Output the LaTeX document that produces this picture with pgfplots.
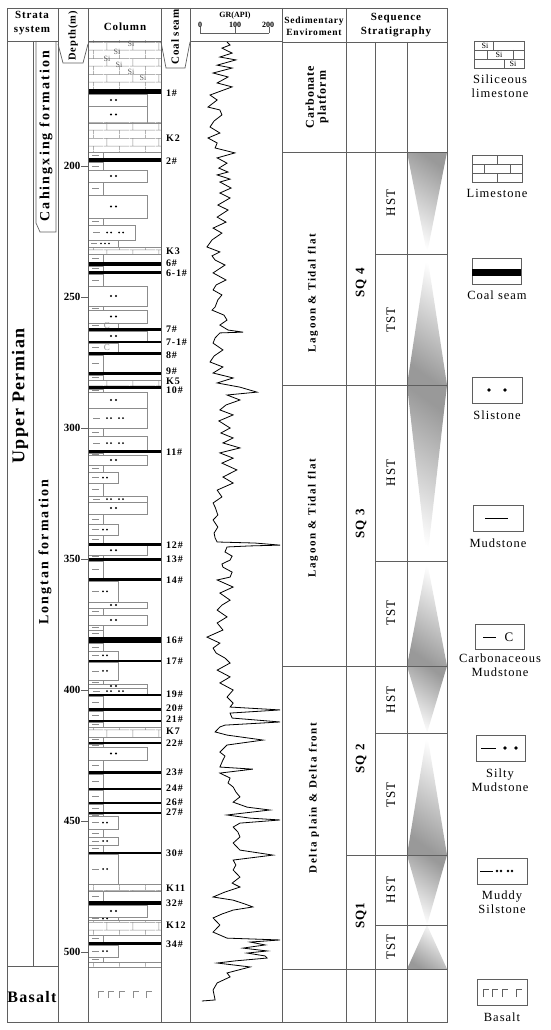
\documentclass[border=0pt]{standalone}
\usepackage{fontspec}
\setmainfont{Liberation Serif}
\newfontfamily\spc[LetterSpace=8]{Liberation Serif}
\newfontfamily\spw[LetterSpace=15]{Liberation Serif}
\usepackage{pgfplots}
\pgfplotsset{compat=1.18}
\usetikzlibrary{patterns}

\definecolor{fr}{RGB}{95,95,95}
\definecolor{lith}{RGB}{140,140,140}

% brick pattern for limestone
\pgfdeclarepatternformonly{limebrick}{\pgfpointorigin}{\pgfqpoint{26pt}{16pt}}{\pgfqpoint{26pt}{16pt}}{%
  \pgfsetlinewidth{0.5pt}%
  \pgfpathmoveto{\pgfqpoint{0pt}{4pt}}\pgfpathlineto{\pgfqpoint{26pt}{4pt}}%
  \pgfpathmoveto{\pgfqpoint{0pt}{12pt}}\pgfpathlineto{\pgfqpoint{26pt}{12pt}}%
  \pgfpathmoveto{\pgfqpoint{3pt}{4pt}}\pgfpathlineto{\pgfqpoint{3pt}{12pt}}%
  \pgfpathmoveto{\pgfqpoint{16pt}{12pt}}\pgfpathlineto{\pgfqpoint{16pt}{16pt}}%
  \pgfpathmoveto{\pgfqpoint{16pt}{0pt}}\pgfpathlineto{\pgfqpoint{16pt}{4pt}}%
  \pgfusepath{stroke}}

\tikzset{
  frl/.style={draw=fr, line width=0.7pt},
  lt/.style={draw=lith, line width=0.5pt},
  lg/.style={draw=fr, line width=0.6pt},
  lab/.style={anchor=west, inner sep=0pt, font={\spc\bfseries\fontsize{10}{10}\selectfont}},
  hd/.style={inner sep=0pt, align=center, font={\spc\bfseries\fontsize{11}{14}\selectfont}},
  lgt/.style={inner sep=0pt, align=center, font={\spc\fontsize{12.5}{14}\selectfont}},
}

% lithology layers, y in picture units from the top
\newcommand\Coal[2]{\fill[black] (axis cs:88,#1) rectangle (axis cs:161,#2);}
\newcommand\Mud[2]{\draw[lt] (axis cs:88,#1) rectangle (axis cs:103,#2);
  \draw[lt] (axis cs:92,{(#1+#2)/2}) -- (axis cs:99,{(#1+#2)/2});}
\newcommand\Silt[3]{\draw[lt] (axis cs:88,#1) rectangle (axis cs:#3,#2);
  \fill (axis cs:111,{(#1+#2)/2}) circle[radius=1.1pt];
  \fill (axis cs:116,{(#1+#2)/2}) circle[radius=1.1pt];}
\newcommand\MSilt[3]{\draw[lt] (axis cs:88,#1) rectangle (axis cs:#3,#2);
  \draw[lt] (axis cs:93,{(#1+#2)/2}) -- (axis cs:100,{(#1+#2)/2});
  \fill (axis cs:107,{(#1+#2)/2}) circle[radius=1pt];
  \fill (axis cs:111,{(#1+#2)/2}) circle[radius=1pt];
  \fill (axis cs:119,{(#1+#2)/2}) circle[radius=1pt];
  \fill (axis cs:123,{(#1+#2)/2}) circle[radius=1pt];}
\newcommand\SMud[2]{\draw[lt] (axis cs:88,#1) rectangle (axis cs:118,#2);
  \draw[lt] (axis cs:92,{(#1+#2)/2}) -- (axis cs:99,{(#1+#2)/2});
  \fill (axis cs:103,{(#1+#2)/2}) circle[radius=1pt];
  \fill (axis cs:107,{(#1+#2)/2}) circle[radius=1pt];}
\newcommand\Carb[2]{\draw[lt] (axis cs:88,#1) rectangle (axis cs:118,#2);
  \draw[lt] (axis cs:92,{(#1+#2)/2}) -- (axis cs:99,{(#1+#2)/2});
  \node[inner sep=0pt, text=lith, font=\fontsize{9}{9}\selectfont] at (axis cs:107,{(#1+#2)/2}) {C};}
\newcommand\Lime[2]{\draw[lt, pattern=limebrick, pattern color=lith] (axis cs:88,#1) rectangle (axis cs:161,#2);}
\newcommand\Lab[2]{\node[lab] at (axis cs:166,#1) {#2};}
\newcommand\Dep[2]{\draw[fr, line width=0.6pt] (axis cs:81,#1) -- (axis cs:88,#1);
  \node[anchor=east, inner sep=0pt, font={\bfseries\fontsize{11}{11}\selectfont}] at (axis cs:80.5,#1) {#2};}
\newcommand\HST[2]{\shade[top color=gray!80, bottom color=white, shading angle=-35]
  (axis cs:407,#1) -- (axis cs:447,#1) -- (axis cs:427,#2) -- cycle;}
\newcommand\TST[2]{\shade[top color=white, bottom color=gray!80, shading angle=-35]
  (axis cs:427,#1) -- (axis cs:447,#2) -- (axis cs:407,#2) -- cycle;}
\newcommand\ST[2]{\node[rotate=90, inner sep=0pt, font={\spc\fontsize{13}{13}\selectfont}] at (axis cs:391,#1) {#2};}

\begin{document}
\begin{tikzpicture}
\begin{axis}[at={(0pt,0pt)}, anchor=south west, width=550pt, height=1030pt,
  scale only axis, xmin=0, xmax=550, ymin=0, ymax=1030, y dir=reverse,
  hide axis, clip=false]
\path (axis cs:0,0) rectangle (axis cs:550,1030);

% ---- lithology column
\Lime{41}{89}
\node[font=\fontsize{8}{8}\selectfont, inner sep=0pt, text=fr] at (axis cs:131,44) {Si};
\node[font=\fontsize{8}{8}\selectfont, inner sep=0pt, text=fr] at (axis cs:117,52) {Si};
\node[font=\fontsize{8}{8}\selectfont, inner sep=0pt, text=fr] at (axis cs:107,59) {Si};
\node[font=\fontsize{8}{8}\selectfont, inner sep=0pt, text=fr] at (axis cs:119,65) {Si};
\node[font=\fontsize{8}{8}\selectfont, inner sep=0pt, text=fr] at (axis cs:131,72) {Si};
\node[font=\fontsize{8}{8}\selectfont, inner sep=0pt, text=fr] at (axis cs:143,78) {Si};
\Silt{94}{106}{147}
\Silt{106}{123}{147}
\Lime{123}{152}
\Mud{152}{158}
\Mud{162}{170}
\Silt{170}{182}{147}
\Mud{182}{195}
\Silt{195}{218}{147}
\Mud{218}{225}
\MSilt{225}{240}{135}
\draw[lt] (axis cs:88,240) rectangle (axis cs:118,247);
\draw[lt] (axis cs:91,243.5) -- (axis cs:97,243.5);
\fill (axis cs:101,243.5) circle[radius=0.9pt];
\fill (axis cs:105,243.5) circle[radius=0.9pt];
\fill (axis cs:109,243.5) circle[radius=0.9pt];
\Lime{247}{254}
\Mud{254}{262}
\Mud{266}{271}
\Mud{274}{286}
\Silt{286}{306}{147}
\Mud{306}{310}
\Silt{310}{323}{147}
\Carb{323}{328}
\Silt{331}{341}{147}
\Carb{343}{352}
\Mud{355}{372}
\Mud{375}{380}
\Lime{380}{386}
\Mud{389}{392}
\Silt{392}{408}{147}
\MSilt{408}{428}{147}
\Mud{428}{436}
\MSilt{436}{450}{147}
\Mud{453}{455}
\Silt{455}{465}{147}
\Mud{465}{472}
\SMud{472}{483}
\Mud{483}{496}
\MSilt{496}{502}{147}
\Silt{502}{514}{147}
\Mud{514}{524}
\SMud{524}{535}
\Mud{535}{543}
\Silt{545.5}{555}{147}
\Mud{555}{558}
\Mud{561}{578}
\SMud{581}{602}
\Silt{602}{608}{147}
\Mud{608}{615}
\Silt{615}{625}{147}
\Mud{625}{630}
\Mud{630}{637}
\Mud{643}{651}
\SMud{651}{660}
\SMud{662}{680}
\Mud{680}{684}
\Silt{684}{688}{147}
\MSilt{688}{694}{147}
\Mud{696}{708}
\Mud{711}{720}
\Mud{722}{727}
\Lime{727}{737}
\Mud{737}{742}
\Mud{744}{747}
\Silt{747}{760}{147}
\Mud{760}{771}
\Mud{774}{788}
\Mud{790}{802}
\Mud{804}{812}
\Mud{814}{816}
\SMud{816}{829}
\Mud{829}{837}
\SMud{837}{845}
\Mud{845}{852}
\SMud{854}{884}
\Lime{884}{891}
\Mud{891}{901}
\Silt{905}{917}{147}
\SMud{917}{920}
\Lime{920}{935}
\Mud{935}{942}
\SMud{945}{957}
\Mud{957}{962}
\Lime{962}{967}
% coal seams
\Coal{89}{94}\Coal{158}{162}\Coal{262}{266}\Coal{271}{274}\Coal{328}{331}
\Coal{341}{343}\Coal{352}{355}\Coal{372}{375}\Coal{386}{389}\Coal{450}{453}
\Coal{543}{545.5}\Coal{558}{561}\Coal{578}{581}\Coal{637}{643}\Coal{660}{662}
\Coal{694}{696}\Coal{708}{711}\Coal{720}{722}\Coal{742}{744}\Coal{771}{774}
\Coal{788}{790}\Coal{802}{804}\Coal{812}{814}\Coal{852}{854}\Coal{901}{905}
\Coal{942}{945}
% basalt marks
\draw[lith, line width=0.6pt] (axis cs:98,998) -- (axis cs:98,991) -- (axis cs:104,991);
\draw[lith, line width=0.6pt] (axis cs:108,998) -- (axis cs:108,991) -- (axis cs:114,991);
\draw[lith, line width=0.6pt] (axis cs:119,998) -- (axis cs:119,991) -- (axis cs:125,991);
\draw[lith, line width=0.6pt] (axis cs:133,998) -- (axis cs:133,991) -- (axis cs:139,991);
\draw[lith, line width=0.6pt] (axis cs:146,998) -- (axis cs:146,991) -- (axis cs:152,991);

% ---- coal seam labels
\Lab{93}{1\#}\Lab{138}{K2}\Lab{161}{2\#}\Lab{251}{K3}\Lab{263.5}{6\#}
\Lab{273}{6-1\#}\Lab{329}{7\#}\Lab{342.5}{7-1\#}\Lab{355}{8\#}\Lab{371.5}{9\#}
\Lab{381}{K5}\Lab{390.5}{10\#}\Lab{452}{11\#}\Lab{545}{12\#}\Lab{559}{13\#}
\Lab{580}{14\#}\Lab{640}{16\#}\Lab{661}{17\#}\Lab{694}{19\#}\Lab{708}{20\#}
\Lab{719.5}{21\#}\Lab{731}{K7}\Lab{743}{22\#}\Lab{772}{23\#}\Lab{788}{24\#}
\Lab{802}{26\#}\Lab{812}{27\#}\Lab{853}{30\#}\Lab{888}{K11}\Lab{903}{32\#}
\Lab{925}{K12}\Lab{944}{34\#}

% ---- depth ticks
\Dep{166}{200}\Dep{297}{250}\Dep{428}{300}\Dep{559}{350}
\Dep{690}{400}\Dep{821}{450}\Dep{952}{500}

% ---- systems tract triangles
\HST{152}{254}\TST{254}{385}\HST{385}{561}\TST{561}{666}
\HST{666}{733}\TST{733}{855}\HST{855}{925}\TST{925}{969}

% ---- frame
\draw[frl] (axis cs:7,8) rectangle (axis cs:447,1022);
\draw[frl] (axis cs:7,41) -- (axis cs:58,41);
\draw[frl] (axis cs:88,41) -- (axis cs:161,41);
\draw[frl] (axis cs:190,41) -- (axis cs:282,41);
\draw[frl] (axis cs:282,42) -- (axis cs:447,42);
\draw[frl] (axis cs:58,44) -- (axis cs:63,63) -- (axis cs:83,63) -- (axis cs:88,44);
\draw[frl] (axis cs:161,42) -- (axis cs:166,68) -- (axis cs:185,68) -- (axis cs:190,42);
\draw[frl] (axis cs:58,8) -- (axis cs:58,1022);
\draw[frl] (axis cs:88,8) -- (axis cs:88,1022);
\draw[frl] (axis cs:161,8) -- (axis cs:161,1022);
\draw[frl] (axis cs:190,8) -- (axis cs:190,1022);
\draw[frl] (axis cs:282,8) -- (axis cs:282,1022);
\draw[frl] (axis cs:346,8) -- (axis cs:346,1022);
\draw[frl] (axis cs:375,42) -- (axis cs:375,1022);
\draw[frl] (axis cs:407,42) -- (axis cs:407,1022);
\draw[frl] (axis cs:33,41) -- (axis cs:33,966);
\draw[frl] (axis cs:7,966) -- (axis cs:58,966);
\draw[frl] (axis cs:36,41) -- (axis cs:36,223) -- (axis cs:40,232) -- (axis cs:56,232) -- (axis cs:56,41);
\draw[frl] (axis cs:282,152) -- (axis cs:447,152);
\draw[frl] (axis cs:282,385) -- (axis cs:447,385);
\draw[frl] (axis cs:282,666) -- (axis cs:447,666);
\draw[frl] (axis cs:282,969) -- (axis cs:447,969);
\draw[frl] (axis cs:346,855) -- (axis cs:447,855);
\draw[frl] (axis cs:375,254) -- (axis cs:447,254);
\draw[frl] (axis cs:375,561) -- (axis cs:447,561);
\draw[frl] (axis cs:375,733) -- (axis cs:447,733);
\draw[frl] (axis cs:375,925) -- (axis cs:447,925);

% ---- GR scale
\node[inner sep=0pt, font={\bfseries\fontsize{8}{8}\selectfont}] at (axis cs:235,16) {GR(API)};
\draw[fr, line width=0.6pt] (axis cs:200,33) -- (axis cs:269,33);
\draw[fr, line width=0.6pt] (axis cs:200,33) -- (axis cs:200,27);
\draw[fr, line width=0.6pt] (axis cs:235,33) -- (axis cs:235,27);
\draw[fr, line width=0.6pt] (axis cs:269,33) -- (axis cs:269,27);
\node[inner sep=0pt, font={\bfseries\fontsize{8}{8}\selectfont}] at (axis cs:200,25) {0};
\node[inner sep=0pt, font={\bfseries\fontsize{8}{8}\selectfont}] at (axis cs:235,25) {100};
\node[inner sep=0pt, font={\bfseries\fontsize{8}{8}\selectfont}] at (axis cs:268,25) {200};

% ---- headers
\node[hd] at (axis cs:32,23) {Strata\\system};
\node[hd, rotate=90, font={\spc\bfseries\fontsize{10.5}{11}\selectfont}] at (axis cs:73,36) {Depth(m)};
\node[hd] at (axis cs:125,27) {Column};
\node[hd, rotate=90] at (axis cs:175,37) {Coal seam};
\node[hd, font={\spc\bfseries\fontsize{9.5}{12}\selectfont}] at (axis cs:314,26) {Sedimentary\\Enviroment};
\node[hd] at (axis cs:396,25) {Sequence\\Stratigraphy};

% ---- strata system
\node[inner sep=0pt, rotate=90, font={\spc\bfseries\fontsize{18}{18}\selectfont}] at (axis cs:20,396) {Upper Permian};
\node[inner sep=0pt, rotate=90, font={\spw\bfseries\fontsize{14}{14}\selectfont}] at (axis cs:46,136) {Cahingxing formation};
\node[inner sep=0pt, rotate=90, font={\spw\bfseries\fontsize{14}{14}\selectfont}] at (axis cs:45,552) {Longtan formation};
\node[inner sep=0pt, font={\spc\bfseries\fontsize{16}{16}\selectfont}] at (axis cs:32,997) {Basalt};

% ---- environment and sequences
\node[inner sep=0pt, rotate=90, align=center, font={\spc\bfseries\fontsize{12}{12}\selectfont}] at (axis cs:317,97) {Carbonate\\platform};
\node[inner sep=0pt, rotate=90, font={\spw\bfseries\fontsize{11}{11}\selectfont}] at (axis cs:313,293) {Lagoon \& Tidal flat};
\node[inner sep=0pt, rotate=90, font={\spw\bfseries\fontsize{11}{11}\selectfont}] at (axis cs:313,518) {Lagoon \& Tidal flat};
\node[inner sep=0pt, rotate=90, font={\spw\bfseries\fontsize{11}{11}\selectfont}] at (axis cs:314,798) {Delta plain \& Delta front};
\node[inner sep=0pt, rotate=90, font={\spc\bfseries\fontsize{13}{13}\selectfont}] at (axis cs:361,283) {SQ 4};
\node[inner sep=0pt, rotate=90, font={\spc\bfseries\fontsize{13}{13}\selectfont}] at (axis cs:361,524) {SQ 3};
\node[inner sep=0pt, rotate=90, font={\spc\bfseries\fontsize{13}{13}\selectfont}] at (axis cs:361,759) {SQ 2};
\node[inner sep=0pt, rotate=90, font={\spc\bfseries\fontsize{13}{13}\selectfont}] at (axis cs:361,916) {SQ1};
\ST{203}{HST}\ST{320}{TST}\ST{473}{HST}\ST{613}{TST}
\ST{700}{HST}\ST{795}{TST}\ST{890}{HST}\ST{947}{TST}

% ---- legend
\draw[lg] (axis cs:474,41) rectangle (axis cs:524,68);
\draw[lg] (axis cs:474,50) -- (axis cs:524,50);
\draw[lg] (axis cs:474,59) -- (axis cs:524,59);
\draw[lg] (axis cs:493,41) -- (axis cs:493,50);
\draw[lg] (axis cs:487,50) -- (axis cs:487,59);
\draw[lg] (axis cs:513,50) -- (axis cs:513,59);
\draw[lg] (axis cs:504,59) -- (axis cs:504,68);
\node[inner sep=0pt, font=\fontsize{8}{8}\selectfont] at (axis cs:485,45.5) {Si};
\node[inner sep=0pt, font=\fontsize{8}{8}\selectfont] at (axis cs:499,54.5) {Si};
\node[inner sep=0pt, font=\fontsize{8}{8}\selectfont] at (axis cs:513,63.5) {Si};
\node[lgt] at (axis cs:500,86) {Siliceous\\limestone};

\draw[lg] (axis cs:472,155) rectangle (axis cs:522,182);
\draw[lg] (axis cs:472,164) -- (axis cs:522,164);
\draw[lg] (axis cs:472,173) -- (axis cs:522,173);
\draw[lg] (axis cs:497,155) -- (axis cs:497,164);
\draw[lg] (axis cs:484,164) -- (axis cs:484,173);
\draw[lg] (axis cs:510,164) -- (axis cs:510,173);
\draw[lg] (axis cs:497,173) -- (axis cs:497,182);
\node[lgt] at (axis cs:497,193) {Limestone};

\draw[lg] (axis cs:472,258) rectangle (axis cs:521,284);
\fill[black] (axis cs:472,269) rectangle (axis cs:521,276);
\node[lgt] at (axis cs:497,295) {Coal seam};

\draw[lg] (axis cs:472,377) rectangle (axis cs:522,403);
\fill (axis cs:489,390) circle[radius=1.8pt];
\fill (axis cs:505,390) circle[radius=1.8pt];
\node[lgt] at (axis cs:497,415) {Slistone};

\draw[lg] (axis cs:473,505) rectangle (axis cs:523,531);
\draw[black, line width=0.9pt] (axis cs:485,518) -- (axis cs:508,518);
\node[lgt] at (axis cs:498,543) {Mudstone};

\draw[lg] (axis cs:475,624) rectangle (axis cs:524,649);
\draw[black, line width=0.9pt] (axis cs:483,637) -- (axis cs:496,637);
\node[inner sep=0pt, font=\fontsize{13}{13}\selectfont] at (axis cs:509,637) {C};
\node[lgt] at (axis cs:500,665) {Carbonaceous\\Mudstone};

\draw[lg] (axis cs:476,735) rectangle (axis cs:525,761);
\draw[black, line width=0.9pt] (axis cs:481,748) -- (axis cs:496,748);
\fill (axis cs:505,748) circle[radius=1.8pt];
\fill (axis cs:516,748) circle[radius=1.8pt];
\node[lgt] at (axis cs:500,780) {Silty\\Mudstone};

\draw[lg] (axis cs:477,858) rectangle (axis cs:527,884);
\draw[black, line width=0.9pt] (axis cs:480,871) -- (axis cs:493,871);
\fill (axis cs:497,871) circle[radius=1.3pt];
\fill (axis cs:501,871) circle[radius=1.3pt];
\fill (axis cs:508,871) circle[radius=1.3pt];
\fill (axis cs:512,871) circle[radius=1.3pt];
\node[lgt] at (axis cs:502,902) {Muddy\\Silstone};

\draw[lg] (axis cs:477,979) rectangle (axis cs:527,1005);
\draw[fr, line width=0.6pt] (axis cs:483,997) -- (axis cs:483,989) -- (axis cs:489,989);
\draw[fr, line width=0.6pt] (axis cs:492,997) -- (axis cs:492,989) -- (axis cs:498,989);
\draw[fr, line width=0.6pt] (axis cs:502,997) -- (axis cs:502,989) -- (axis cs:508,989);
\draw[fr, line width=0.6pt] (axis cs:516,997) -- (axis cs:516,989) -- (axis cs:522,989);
\node[lgt] at (axis cs:502,1017) {Basalt};
\end{axis}

% ---- GR log: x = GR (API), y = depth (m)
\begin{axis}[at={(190pt,0pt)}, anchor=south west, width=92pt, height=1030pt,
  scale only axis, xmin=-30.88, xmax=239.7, ymin=136.64, ymax=529.77,
  y dir=reverse, hide axis, clip=false]
\addplot[black, line width=0.8pt] table {
gr d
78 152.7
87 153.8
63 155.0
93 156.9
57 158.4
104 159.5
49 161.5
93 162.6
37 164.5
81 166.0
49 168.3
93 169.8
28 172.9
49 174.8
22 177.5
57 178.6
63 180.5
40 182.8
28 185.1
57 187.4
22 189.3
49 191.2
43 193.1
101 195.0
49 196.9
78 198.9
54 200.8
81 202.3
49 203.4
87 205.0
57 206.1
90 208.4
57 210.3
87 212.2
51 214.9
81 216.8
49 219.5
75 221.4
37 223.7
63 225.6
34 228.2
19 230.9
57 232.8
34 234.3
43 235.9
72 237.8
37 240.8
75 243.5
46 245.4
37 247.3
63 249.2
51 251.1
43 253.8
34 255.0
69 256.9
78 258.8
57 260.7
81 262.6
125 263.4
57 263.7
43 265.6
37 267.6
66 270.2
40 272.5
28 274.8
66 276.7
37 279.0
96 280.9
49 282.8
116 284.4
166 286.3
78 287.4
116 289.3
75 291.2
57 293.1
96 295.0
54 297.3
87 300.0
60 301.9
96 303.8
66 305.7
116 307.6
57 309.5
96 311.5
63 313.4
107 316.0
66 318.7
96 321.0
49 323.7
63 326.3
37 328.6
43 330.2
51 333.2
37 335.1
51 337.8
40 340.1
43 342.0
49 343.5
160 343.9
234 344.7
146 345.0
78 345.4
72 347.3
93 348.9
87 350.4
63 351.9
66 353.1
93 355.0
87 356.9
49 358.0
96 360.7
57 363.0
87 365.7
63 367.6
49 369.5
78 372.1
49 374.4
66 377.1
19 379.8
57 382.1
37 384.0
46 385.9
72 387.8
87 389.7
49 392.4
87 395.0
57 397.3
96 400.0
78 402.7
96 405.0
87 406.5
234 407.6
87 408.8
93 410.7
234 412.2
72 413.4
57 414.1
43 416.0
78 417.2
184 419.1
78 421.0
57 423.7
72 425.2
66 426.7
57 429.4
154 430.2
57 431.7
87 433.6
81 435.5
96 437.0
104 438.9
116 440.8
96 442.8
137 444.7
204 445.8
78 447.7
146 448.9
234 449.6
116 450.8
96 452.3
110 454.2
116 456.1
96 458.4
116 461.1
213 463.0
96 464.9
104 466.8
96 468.7
116 471.4
93 473.7
116 475.2
72 477.1
37 479.0
96 480.2
131 481.7
154 482.8
96 484.0
63 485.5
37 487.0
57 489.7
37 492.4
78 494.7
234 495.4
146 496.2
190 497.3
125 498.5
196 499.6
137 500.4
190 501.5
196 502.3
101 503.4
49 504.2
146 505.7
78 508.0
87 509.5
49 511.8
37 514.5
43 518.3
4 518.7
};
\end{axis}
\end{tikzpicture}
\end{document}
